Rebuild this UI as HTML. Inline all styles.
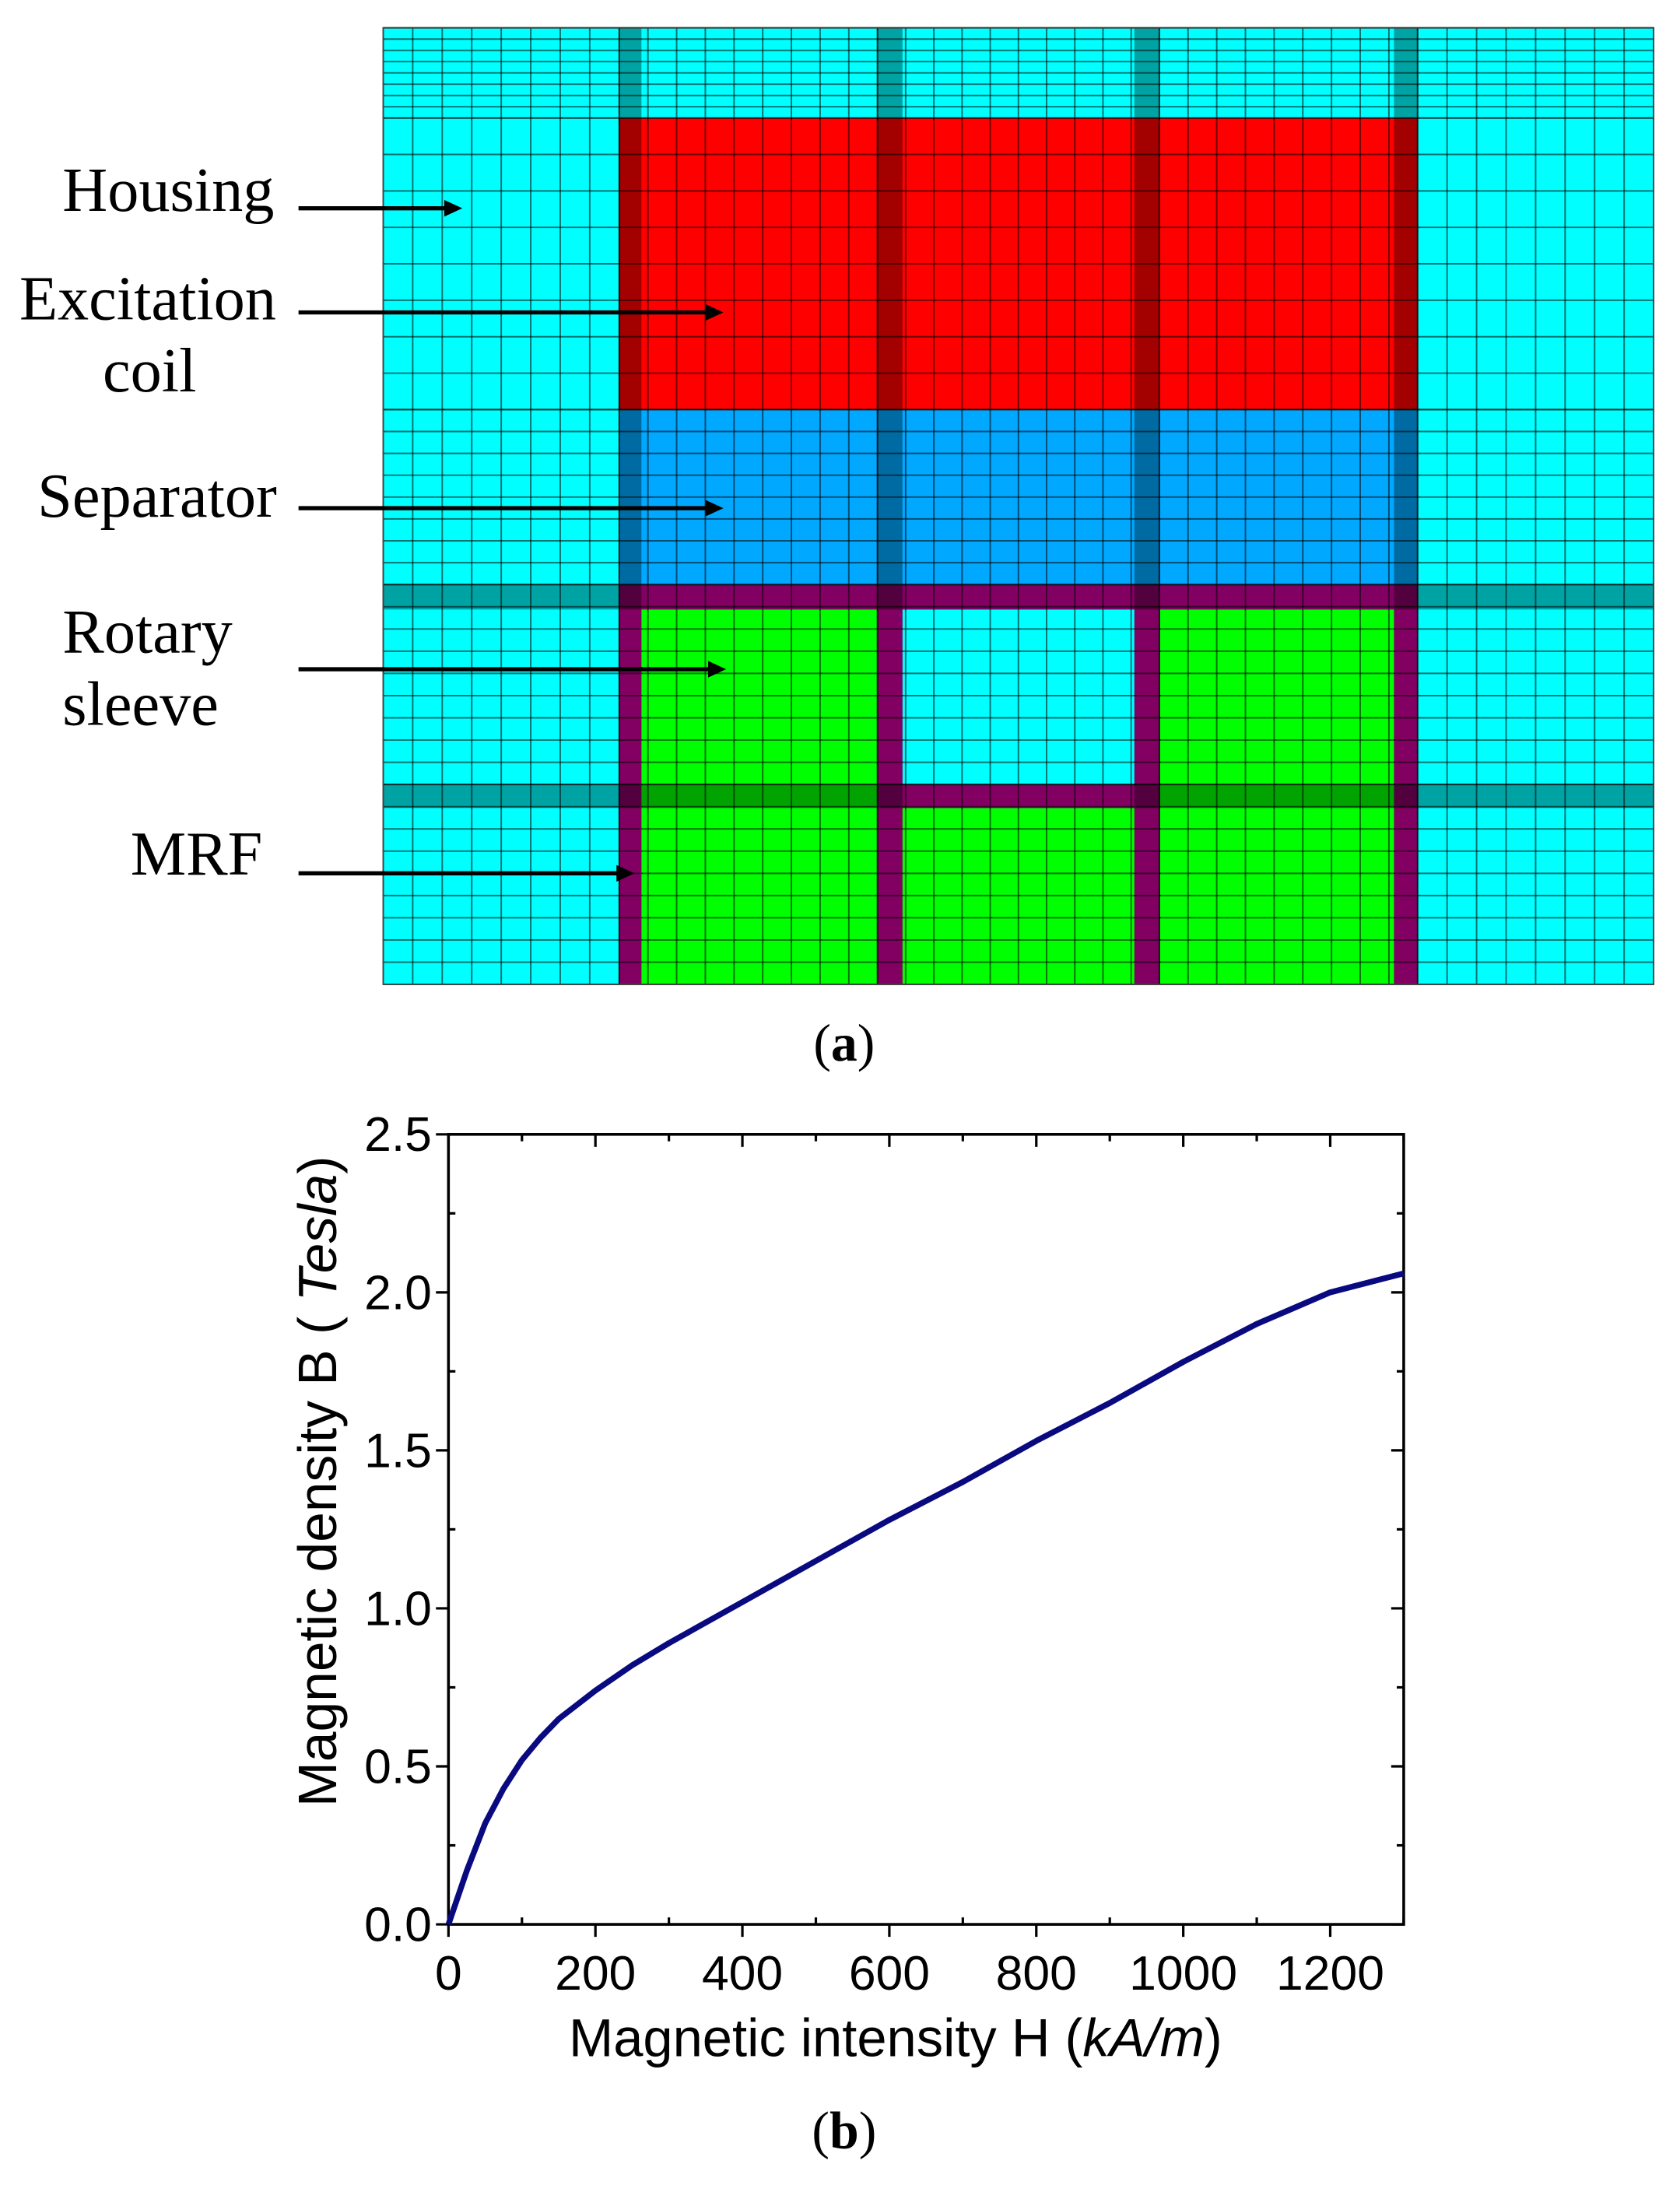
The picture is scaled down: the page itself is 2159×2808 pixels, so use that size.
<!DOCTYPE html>
<html><head><meta charset="utf-8"><style>
html,body{margin:0;padding:0;background:#fff;}
svg{display:block;}
</style></head><body>
<svg id="fig" xmlns="http://www.w3.org/2000/svg" width="2159" height="2808" viewBox="0 0 1210 1573.7">
<rect x="0" y="0" width="1210" height="1573.7" fill="#fff"/>
<g id="mesh"></g>
<g id="labels" font-family="'Liberation Serif', serif" font-size="45" fill="#000">
<text x="45" y="152">Housing</text>
<text x="14" y="230">Excitation</text>
<text x="74" y="282">coil</text>
<text x="27" y="372">Separator</text>
<text x="45" y="470">Rotary</text>
<text x="45" y="522">sleeve</text>
<text x="94" y="630">MRF</text>
<text x="608" y="764" text-anchor="middle" font-size="38">(<tspan font-weight="bold">a</tspan>)</text>
<text x="608" y="1547" text-anchor="middle" font-size="38">(<tspan font-weight="bold">b</tspan>)</text>
</g>
<g id="arrows"></g>
<g id="chart"></g>
</svg>
<script>
const NS='http://www.w3.org/2000/svg';
function mk(parent,tag,attrs){const e=document.createElementNS(NS,tag);for(const k in attrs)e.setAttribute(k,attrs[k]);parent.appendChild(e);return e;}

// ---------- mesh ----------
const mesh=document.getElementById('mesh');
const X0=276,X1=1191,Y0=20,Y1=709;
const CY='#00ffff',RED='#ff0000',BLUE='#00a8ff',GRN='#00ff00',MAG='#cc0099';
function rect(x1,y1,x2,y2,fill,name){const r=mk(mesh,'rect',{x:x1,y:y1,width:x2-x1,height:y2-y1,fill:fill});return r;}
rect(X0,Y0,X1,Y1,CY,'housing-region');
rect(446,85,1021,295,RED,'excitation-coil-region');
rect(446,295,1021,421,BLUE,'separator-region');
rect(446,421,1021,709,MAG,'mrf-region');
rect(462,439,632,709,GRN,'sleeve-left');
rect(835,439,1004,709,GRN,'sleeve-right');
rect(650,582,817,709,GRN,'sleeve-bottom');
rect(650,439,817,565,CY,'housing-inner');
// grid lines
const vsegs=[[276,446],[446,632],[632,835],[835,1021],[1021,1191]];
const gl=mk(mesh,'g',{stroke:'#000','stroke-opacity':'0.55','stroke-width':'1.1'});

for(const [a,b] of vsegs){const n=Math.round((b-a)/21);for(let i=0;i<=n;i++){const x=a+(b-a)*i/n;mk(gl,'line',{x1:x,y1:Y0,x2:x,y2:Y1});}}
const hsegs=[[20,85,8],[85,295,8],[295,421,8],[421,565,9],[565,709,9]];
for(const [a,b,n] of hsegs){for(let i=0;i<=n;i++){const y=a+(b-a)*i/n;mk(gl,'line',{x1:X0,y1:y,x2:X1,y2:y});}}
// dark bands
const bands=mk(mesh,'g',{fill:'#000','fill-opacity':'0.36'});

for(const [a,b] of [[446,462],[632,650],[817,835],[1004,1021]])mk(bands,'rect',{x:a,y:Y0,width:b-a,height:Y1-Y0});
for(const [a,b] of [[421,439],[565,582]])mk(bands,'rect',{x:X0,y:a,width:X1-X0,height:b-a});
mk(mesh,'rect',{x:X0,y:Y0,width:X1-X0,height:Y1-Y0,fill:'none',stroke:'#444','stroke-width':'1'});

// ---------- arrows ----------
const arrows=document.getElementById('arrows');
const arrowY=[150,225,366,482,629];
const arrowEnd=[333,521,521,523,457];
arrowY.forEach((y,i)=>{
  const g=mk(arrows,'g',{});
  
  
  const e=arrowEnd[i];
  mk(g,'line',{x1:215,y1:y,x2:e-8,y2:y,stroke:'#000','stroke-width':'3'});
  mk(g,'polygon',{points:`${e},${y} ${e-13},${y-6} ${e-13},${y+6}`,fill:'#000'});
});

// ---------- chart ----------
const H=[0,25,50,75,100,125,150,200,250,300,400,500,600,700,800,900,1000,1100,1200,1300];
const B=[0,0.17,0.32,0.43,0.52,0.59,0.65,0.74,0.82,0.89,1.02,1.15,1.28,1.40,1.53,1.65,1.78,1.90,2.00,2.06];
const xTicks=[0,200,400,600,800,1000,1200];
const yTicks=[0.0,0.5,1.0,1.5,2.0,2.5];
const chart=document.getElementById('chart');
const L=323,R=1011,T=817,Bt=1386;
const sx=v=>L+(v-0)/(1300-0)*(R-L);
const sy=v=>Bt-(v-0)/(2.5-0)*(Bt-T);
const frame=mk(chart,'rect',{x:L,y:T,width:R-L,height:Bt-T,fill:'none',stroke:'#000','stroke-width':'2'});

const tk=mk(chart,'g',{stroke:'#000','stroke-width':'1.8'});

for(let v=0;v<=1300;v+=100){const x=sx(v);const maj=v%200===0;
  mk(tk,'line',{x1:x,y1:Bt,x2:x,y2:maj?Bt+9:Bt-5});
  mk(tk,'line',{x1:x,y1:T,x2:x,y2:maj?T+9:T+5});}
for(let k=0;k<=10;k++){const v=k*0.25;const y=sy(v);const maj=k%2===0;
  mk(tk,'line',{x1:L,y1:y,x2:maj?L-9:L+5,y2:y});
  mk(tk,'line',{x1:R,y1:y,x2:maj?R-9:R-5,y2:y});}
const lab=mk(chart,'g',{'font-family':"'Liberation Sans', sans-serif",'font-size':'35',fill:'#000'});
xTicks.forEach(v=>{const t=mk(lab,'text',{x:sx(v),y:Bt+47,'text-anchor':'middle'});t.textContent=String(v);
  });
yTicks.forEach(v=>{const t=mk(lab,'text',{x:L-12,y:sy(v)+12,'text-anchor':'end'});t.textContent=v.toFixed(1);
  });
const xt=mk(chart,'text',{x:645,y:1481,'text-anchor':'middle','font-family':"'Liberation Sans', sans-serif",'font-size':'38.5'});

xt.innerHTML='Magnetic intensity H (<tspan font-style="italic">kA/m</tspan>)';
const yt=mk(chart,'text',{x:0,y:0,'text-anchor':'middle','font-family':"'Liberation Sans', sans-serif",'font-size':'39',transform:'translate(242,1067) rotate(-90)'});

yt.innerHTML='Magnetic density B ( <tspan font-style="italic">Tesla</tspan>)';
const d=H.map((h,i)=>(i?'L':'M')+sx(h).toFixed(2)+','+sy(B[i]).toFixed(2)).join(' ');
const line=mk(chart,'path',{d:d,fill:'none',stroke:'#0a0a80','stroke-width':'4.2','stroke-linejoin':'round'});


</script>
</body></html>
